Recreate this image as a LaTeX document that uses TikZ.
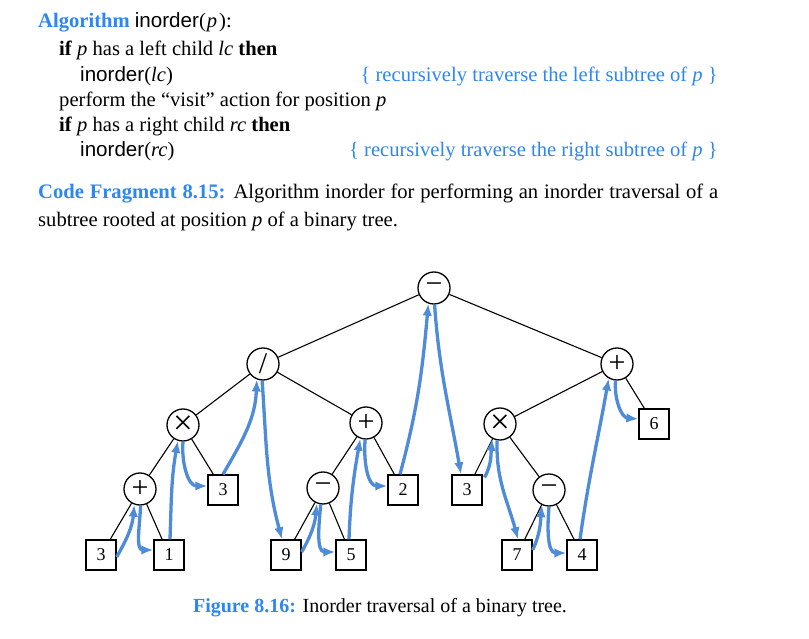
\documentclass[tikz,border=0pt]{standalone}
\usepackage{fontspec}
\setmainfont{Liberation Serif}
\newfontfamily\hel{Liberation Sans}
\usetikzlibrary{arrows.meta}
\definecolor{tblue}{RGB}{45,135,240}
\definecolor{ablue}{RGB}{78,140,218}
\tikzset{
  txt/.style={inner sep=0pt, font=\fontsize{20.6}{26}\selectfont},
  figtxt/.style={inner sep=0pt, font=\fontsize{20}{26}\selectfont},
  opnode/.style={circle, draw, line width=1.3pt, minimum size=32pt, inner sep=0pt, fill=white, font=\fontsize{30}{30}\selectfont},
  timesnode/.style={opnode, font=\fontsize{35}{35}\selectfont},
  leaf/.style={rectangle, draw, line width=1.3pt, minimum width=30pt, minimum height=30pt, inner sep=0pt, fill=white, font=\fontsize{18}{18}\selectfont},
  edge/.style={line width=1.1pt},
  tour/.style={ablue, line width=3.3pt, -{Latex[length=12pt,width=9.5pt]}}
}
\begin{document}
\begin{tikzpicture}[x=1pt,y=1pt]
\useasboundingbox (0,0) rectangle (809,-639);
% algorithm text
\node[txt, anchor=base west] (l1) at (38,-27.7) {\textcolor{tblue}{\textbf{Algorithm}} {\hel inorder}(\kern1pt\textit{p}\kern2pt):};
\node[txt, anchor=base west] (l2) at (59,-55.7) {\textbf{if} \textit{p} has a left child \textit{lc} \textbf{then}};
\node[txt, anchor=base west] (l3) at (80,-81.7) {{\hel inorder}(\textit{lc})};
\node[txt, anchor=base east, text=tblue] (c1) at (718,-81.7) {\{ recursively traverse the left subtree of \textit{p} \}};
\node[txt, anchor=base west] (l4) at (59,-107) {perform the “visit” action for position \textit{p}};
\node[txt, anchor=base west] (l5) at (59,-132) {\textbf{if} \textit{p} has a right child \textit{rc} \textbf{then}};
\node[txt, anchor=base west] (l6) at (80,-157) {{\hel inorder}(\textit{rc})};
\node[txt, anchor=base east, text=tblue] (c2t) at (718,-157) {\{ recursively traverse the right subtree of \textit{p} \}};
% caption
\node[txt, anchor=base west] (cap1) at (38,-199) {\hbox to 680pt{\textcolor{tblue}{\textbf{Code Fragment 8.15:}} Algorithm inorder for performing an inorder traversal of a}};
\node[txt, anchor=base west] (cap2) at (38,-227) {subtree rooted at position \textit{p} of a binary tree.};
\node[figtxt, anchor=base] (fig) at (380,-612) {\textcolor{tblue}{\textbf{Figure 8.16:}} Inorder traversal of a binary tree.};
% tree nodes
\node[opnode] (r) at (434,-288) {−};
\node[opnode] (d) at (263,-364) {/};
\node[timesnode] (m1) at (183,-425) {×};
\node[opnode] (p1) at (140,-489) {+};
\node[leaf] (a3) at (101,-555) {3};
\node[leaf] (a1) at (169,-555) {1};
\node[leaf] (b3) at (223,-490) {3};
\node[opnode] (p2) at (366,-423) {+};
\node[opnode] (s1) at (323,-488) {−};
\node[leaf] (c2) at (403,-490) {2};
\node[leaf] (c9) at (286,-555) {9};
\node[leaf] (c5) at (351,-555) {5};
\node[opnode] (p3) at (617,-364) {+};
\node[leaf] (c6) at (654,-424) {6};
\node[timesnode] (m2) at (500,-424) {×};
\node[leaf] (d3) at (467,-490) {3};
\node[opnode] (s2) at (549,-490) {−};
\node[leaf] (d7) at (517,-555) {7};
\node[leaf] (d4) at (582,-555) {4};
% edges
\draw[edge] (r) -- (d);
\draw[edge] (r) -- (p3);
\draw[edge] (d) -- (m1);
\draw[edge] (d) -- (p2);
\draw[edge] (m1) -- (p1);
\draw[edge] (m1) -- (b3);
\draw[edge] (p1) -- (a3);
\draw[edge] (p1) -- (a1);
\draw[edge] (p2) -- (s1);
\draw[edge] (p2) -- (c2);
\draw[edge] (s1) -- (c9);
\draw[edge] (s1) -- (c5);
\draw[edge] (p3) -- (m2);
\draw[edge] (p3) -- (c6);
\draw[edge] (m2) -- (d3);
\draw[edge] (m2) -- (s2);
\draw[edge] (s2) -- (d7);
\draw[edge] (s2) -- (d4);
% inorder tour
\draw[tour] ([yshift=-2pt]a3.east) to[out=60,in=-95] (p1.-110);
\draw[tour] (p1.-88) to[out=-92,in=180] ([yshift=5pt]a1.west);
\draw[tour] ([xshift=1pt]a1.north) to[out=88,in=-100] (m1.-108);
\draw[tour] (m1.-90) to[out=-95,in=180] ([yshift=4pt]b3.west);
\draw[tour] (b3.north) to[out=60,in=-92] (d.-112);
\draw[tour] (d.-93) to[out=-86,in=105] ([xshift=-4pt]c9.north);
\draw[tour] ([yshift=3pt]c9.east) to[out=60,in=-95] (s1.-112);
\draw[tour] (s1.-98) to[out=-95,in=180] ([yshift=3pt]c5.west);
\draw[tour] ([xshift=-2pt]c5.north) to[out=88,in=-100] (p2.-110);
\draw[tour] (p2.-93) to[out=-95,in=180] ([yshift=4pt]c2.west);
\draw[tour] ([xshift=-3pt]c2.north) to[out=75,in=-95] (r.-110);
\draw[tour] (r.-88) to[out=-86,in=100] ([xshift=-6pt]d3.north);
\draw[tour] ([xshift=2pt,yshift=-3pt]d3.north east) to[out=62,in=-95] (m2.-118);
\draw[tour] (m2.-100) to[out=-92,in=105] ([xshift=1pt]d7.north);
\draw[tour] ([yshift=5pt]d7.east) to[out=65,in=-95] (s2.-115);
\draw[tour] (s2.-90) to[out=-95,in=180] ([yshift=2pt]d4.west);
\draw[tour] ([xshift=-2pt]d4.north) to[out=82,in=-100] (p3.-120);
\draw[tour] (p3.-95) to[out=-95,in=175] ([yshift=5pt]c6.west);
\end{tikzpicture}
\end{document}
